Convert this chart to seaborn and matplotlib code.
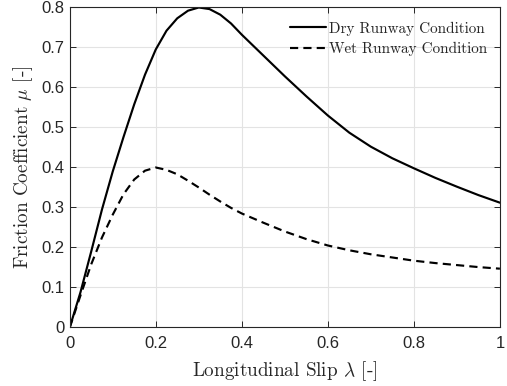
import matplotlib
matplotlib.use("Agg")
import matplotlib.pyplot as plt
import seaborn as sns
import pandas as pd

slip = [0.0, 0.025, 0.05, 0.075, 0.10, 0.125, 0.15, 0.175, 0.20, 0.225, 0.25,
        0.275, 0.30, 0.325, 0.35, 0.375, 0.40, 0.45, 0.50, 0.55, 0.60, 0.65,
        0.70, 0.75, 0.80, 0.85, 0.90, 0.95, 1.00]
dry = [0.0, 0.088, 0.190, 0.295, 0.390, 0.476, 0.558, 0.632, 0.695, 0.742, 0.773,
       0.792, 0.800, 0.796, 0.782, 0.760, 0.732, 0.680, 0.628, 0.578, 0.530, 0.487,
       0.452, 0.423, 0.398, 0.374, 0.352, 0.331, 0.312]
wet = [0.0, 0.080, 0.158, 0.225, 0.282, 0.333, 0.370, 0.392, 0.400, 0.394, 0.383,
       0.367, 0.350, 0.332, 0.315, 0.299, 0.285, 0.262, 0.240, 0.221, 0.205, 0.193,
       0.183, 0.175, 0.167, 0.161, 0.156, 0.151, 0.147]
labels = ["Dry Runway Condition", "Wet Runway Condition"]
xticks = [0, 0.2, 0.4, 0.6, 0.8, 1]
xticklabels = ["0", "0.2", "0.4", "0.6", "0.8", "1"]
yticks = [0, 0.1, 0.2, 0.3, 0.4, 0.5, 0.6, 0.7, 0.8]
yticklabels = ["0", "0.1", "0.2", "0.3", "0.4", "0.5", "0.6", "0.7", "0.8"]

sns.set_theme(style="white")
plt.rcParams["mathtext.fontset"] = "cm"
plt.rcParams["font.family"] = ["Liberation Sans", "DejaVu Sans"]

df = pd.DataFrame({
    "slip": slip * 2,
    "mu": dry + wet,
    "cond": [labels[0]] * len(slip) + [labels[1]] * len(slip),
})

fig = plt.figure(figsize=(5.07, 3.86), dpi=100)
ax = fig.add_axes([0.1375, 0.1516, 0.8485, 0.829])

sns.lineplot(data=df, x="slip", y="mu", style="cond", color="black",
             dashes={labels[0]: "", labels[1]: (3.8, 2.4)}, linewidth=1.55, ax=ax)

ax.set_xlim(0, 1)
ax.set_ylim(0, 0.8)
ax.set_xticks(xticks)
ax.set_xticklabels(xticklabels)
ax.set_yticks(yticks)
ax.set_yticklabels(yticklabels)
ax.grid(True, color="#e3e3e3", linewidth=0.8)
ax.set_axisbelow(True)
ax.tick_params(direction="in", length=4, width=0.7, color="#262626",
               labelsize=12, labelcolor="#262626", top=True, right=True,
               bottom=True, left=True)
ax.tick_params(axis="x", pad=6)
ax.tick_params(axis="y", pad=4)
for s in ax.spines.values():
    s.set_color("#262626")
    s.set_linewidth(0.8)

ax.set_xlabel("Longitudinal Slip $\\lambda$ [-]", fontfamily="cmr10", fontsize=13.8,
              color="#262626", labelpad=6)
ax.set_ylabel("Friction Coefficient $\\mu$ [-]", fontfamily="cmr10", fontsize=13.8,
              color="#262626", labelpad=4)

leg = ax.legend(loc="upper right", frameon=False, prop={"family": "cmr10", "size": 10.9},
                handlelength=2.4, handletextpad=0.2, labelspacing=0.4,
                borderaxespad=0.0, bbox_to_anchor=(0.985, 0.975))
for t in leg.get_texts():
    t.set_color("#262626")

fig.savefig("out.png", dpi=100)
